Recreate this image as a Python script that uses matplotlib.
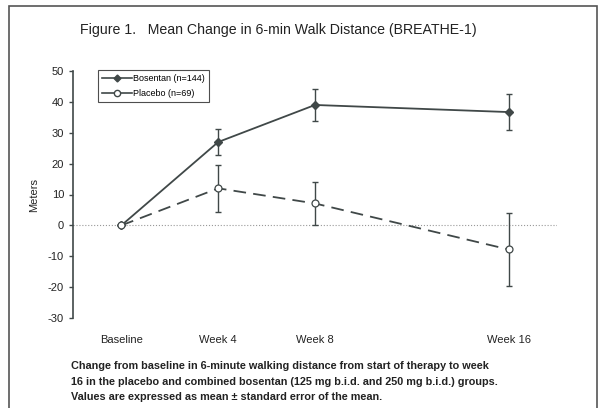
import numpy as np
import matplotlib.pyplot as plt
from matplotlib.lines import Line2D
from matplotlib.patches import Rectangle

plt.rcParams['font.family'] = ['Liberation Sans', 'DejaVu Sans']
plt.rcParams['axes.unicode_minus'] = False

weeks = [0, 4, 8, 16]
week_labels = ['Baseline', 'Week 4', 'Week 8', 'Week 16']
bosentan = [0, 27, 39, 36.7]
bosentan_se = [0, 4.3, 5.1, 5.9]
placebo = [0, 12, 7.1, -7.8]
placebo_se = [0, 7.7, 7.0, 11.7]

col = '#404848'

fig = plt.figure(figsize=(6.01, 4.08), dpi=100)
fig.patches.append(Rectangle((9/601, -0.01), 588/601, 1 - 6/408 + 0.01, transform=fig.transFigure,
                             fill=False, edgecolor='#555555', linewidth=1.2))
ax = fig.add_axes([73/601, 90/408, (557-73)/601, (337-90)/408])

ax.axhline(0, color='#999999', linestyle=':', linewidth=0.8, zorder=1)

ax.errorbar(weeks[1:], bosentan[1:], yerr=bosentan_se[1:], fmt='none', ecolor=col,
            elinewidth=1, capsize=2.5, capthick=1, zorder=2)
ax.errorbar(weeks[1:], placebo[1:], yerr=placebo_se[1:], fmt='none', ecolor=col,
            elinewidth=1, capsize=2.5, capthick=1, zorder=2)
ax.plot(weeks, bosentan, color=col, linewidth=1.3, marker='D', markersize=4,
        markerfacecolor=col, markeredgecolor=col, zorder=3)
ax.plot(weeks, placebo, color=col, linewidth=1.3, linestyle=(0, (7, 4)), marker='o', markersize=5,
        markerfacecolor='white', markeredgecolor=col, markeredgewidth=0.9, zorder=3)

ax.set_xlim(-2, 18)
ax.set_ylim(-30, 50)
ax.set_yticks(np.arange(-30, 51, 10))
ax.set_xticks(weeks)
ax.set_xticklabels(week_labels)
ax.tick_params(axis='x', length=0, pad=12, labelsize=8, colors='#222222')
ax.tick_params(axis='y', direction='out', length=3, width=1, labelsize=8, colors='#222222', color=col)
for s in ['top', 'right', 'bottom']:
    ax.spines[s].set_visible(False)
ax.spines['left'].set_color(col)
ax.spines['left'].set_linewidth(1.2)
ax.set_ylabel('Meters', fontsize=8, color='#222222', labelpad=6)

handles = [Line2D([], [], color=col, linewidth=1.2, marker='D', markersize=3.5, markerfacecolor=col),
           Line2D([], [], color=col, linewidth=1.2, marker='o', markersize=4.5, markerfacecolor='white')]
leg = ax.legend(handles, ['Bosentan (n=144)', 'Placebo (n=69)'], loc='upper left',
                bbox_to_anchor=(25/484, 1.004), borderaxespad=0, fontsize=6.5, frameon=True,
                fancybox=False, edgecolor='#222222', handlelength=3.3, handletextpad=0.1,
                borderpad=0.45, labelspacing=0.7)
leg.get_frame().set_linewidth(0.8)

fig.text(80/601, 1 - 30/408, 'Figure 1.   Mean Change in 6-min Walk Distance (BREATHE-1)',
         fontsize=10.2, color='#222222', va='center')
caption = ('Change from baseline in 6-minute walking distance from start of therapy to week\n'
           '16 in the placebo and combined bosentan (125 mg b.i.d. and 250 mg b.i.d.) groups.\n'
           'Values are expressed as mean \u00b1 standard error of the mean.')
fig.text(71/601, 1 - 361/408, caption, fontsize=7.8, fontweight='bold', color='#222222',
         va='top', linespacing=1.7)

fig.savefig('out.png', dpi=100)
